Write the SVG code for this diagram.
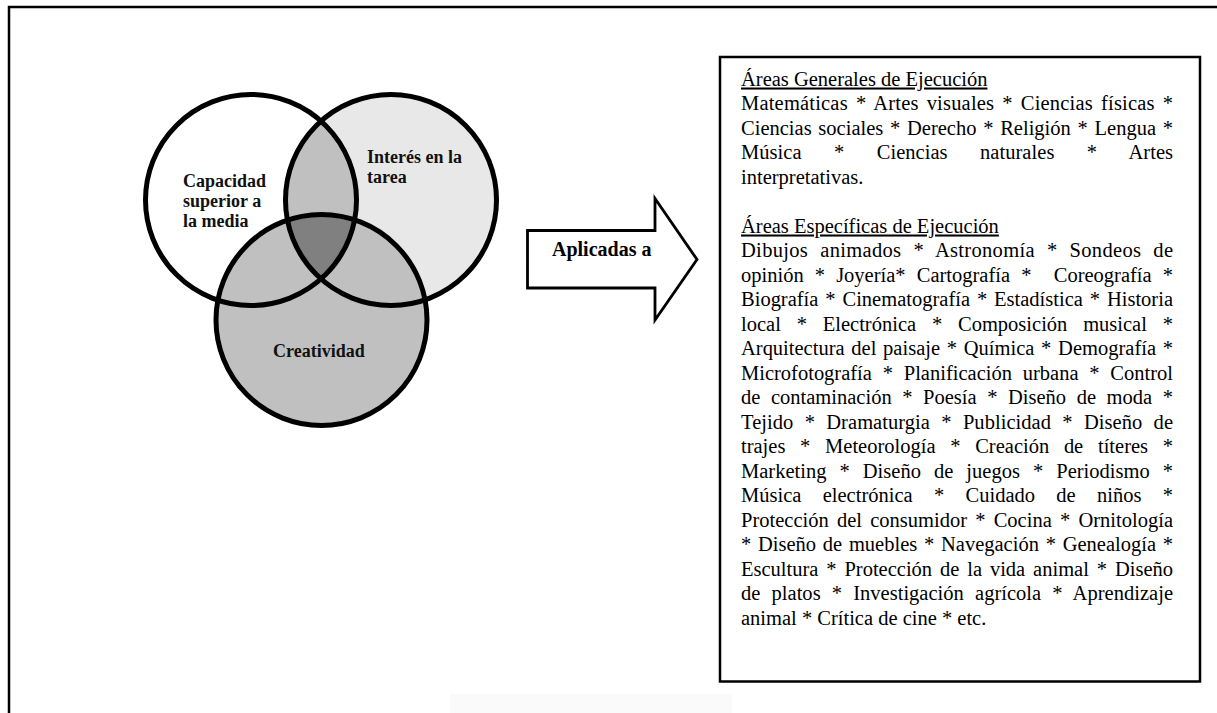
<svg xmlns="http://www.w3.org/2000/svg" width="1217" height="713" viewBox="0 0 1217 713">
  <style>
    .ring { fill: none; stroke: #000; stroke-width: 5; }
    .vlabel { font-family: "Liberation Serif", "Times New Roman", serif; font-weight: bold; font-size: 18px; fill: #111; }
    .alabel { font-family: "Liberation Serif", "Times New Roman", serif; font-weight: bold; font-size: 20px; fill: #000; }
    .body { font-family: "Liberation Serif", "Times New Roman", serif; font-size: 20.5px; fill: #000; }
    .head { text-decoration: underline; }
  </style>
  <defs>
    <clipPath id="clip-left"><circle cx="251" cy="200" r="105.5"/></clipPath>
    <clipPath id="clip-bottom"><circle cx="321.5" cy="320" r="105.5"/></clipPath>
  </defs>

  <rect width="1217" height="713" fill="#fff"/>

  <!-- page frame (top and left edges) -->
  <polyline points="9,713 9,7 1217,7" fill="none" stroke="#000" stroke-width="2.5"/>
  <rect x="450" y="694" width="282" height="19" fill="#fafafa"/>

  <!-- Venn region fills -->
  <g id="venn-fills">
    <circle cx="251" cy="200" r="105.5" fill="#fff"/>
    <circle cx="391" cy="200" r="105.5" fill="#e8e8e8"/>
    <circle cx="321.5" cy="320" r="105.5" fill="#c0c0c0"/>
    <circle cx="391" cy="200" r="105.5" fill="#c0c0c0" clip-path="url(#clip-left)"/>
    <g clip-path="url(#clip-bottom)">
      <circle cx="391" cy="200" r="105.5" fill="#808080" clip-path="url(#clip-left)"/>
    </g>
  </g>

  <g id="capacidad">
    <circle class="ring" cx="251" cy="200" r="105.5"/>
    <text class="vlabel" x="183" y="187">Capacidad</text>
    <text class="vlabel" x="183" y="207">superior a</text>
    <text class="vlabel" x="183" y="227">la media</text>
  </g>

  <g id="interes">
    <circle class="ring" cx="391" cy="200" r="105.5"/>
    <text class="vlabel" x="367" y="163">Interés en la</text>
    <text class="vlabel" x="367" y="183">tarea</text>
  </g>

  <g id="creatividad">
    <circle class="ring" cx="321.5" cy="320" r="105.5"/>
    <text class="vlabel" x="273" y="357">Creatividad</text>
  </g>

  <g id="connectors">
    <polygon points="527.5,230.5 655,230.5 655,198.5 697,259.5 655,320 655,288 527.5,288" fill="#fff" stroke="#000" stroke-width="2.8" stroke-linejoin="miter"/>
    <text class="alabel" x="552" y="256">Aplicadas a</text>
  </g>

  <!-- justified lines: word-spacing does the bulk, textLength trims the rest -->
  <g id="areas-ejecucion">
    <rect x="720" y="57" width="480" height="624.5" fill="#fff" stroke="#000" stroke-width="2.5"/>
    <text class="body head" x="741" y="85.5">Áreas Generales de Ejecución</text>
    <text class="body" x="741" y="110" word-spacing="2.76" textLength="432" lengthAdjust="spacing">Matemáticas * Artes visuales * Ciencias físicas *</text>
    <text class="body" x="741" y="134.5" word-spacing="1.62" textLength="432" lengthAdjust="spacing">Ciencias sociales * Derecho * Religión * Lengua *</text>
    <text class="body" x="741" y="159" word-spacing="27.3" textLength="432" lengthAdjust="spacing">Música * Ciencias naturales * Artes</text>
    <text class="body" x="741" y="183.5">interpretativas.</text>
    <text class="body head" x="741" y="232.5">Áreas Específicas de Ejecución</text>
    <text class="body" x="741" y="257" word-spacing="6.64" textLength="432" lengthAdjust="spacing">Dibujos animados * Astronomía * Sondeos de</text>
    <text class="body" x="741" y="281.5" word-spacing="6.0" textLength="432" lengthAdjust="spacing" xml:space="preserve">opinión * Joyería* Cartografía *  Coreografía *</text>
    <text class="body" x="741" y="306" word-spacing="1.78" textLength="432" lengthAdjust="spacing">Biografía * Cinematografía * Estadística * Historia</text>
    <text class="body" x="741" y="330.5" word-spacing="10.7" textLength="432" lengthAdjust="spacing">local * Electrónica * Composición musical *</text>
    <text class="body" x="741" y="355" word-spacing="1.61" textLength="432" lengthAdjust="spacing">Arquitectura del paisaje * Química * Demografía *</text>
    <text class="body" x="741" y="379.5" word-spacing="5.66" textLength="432" lengthAdjust="spacing">Microfotografía * Planificación urbana * Control</text>
    <text class="body" x="741" y="404" word-spacing="5.46" textLength="432" lengthAdjust="spacing">de contaminación * Poesía * Diseño de moda *</text>
    <text class="body" x="741" y="428.5" word-spacing="6.16" textLength="432" lengthAdjust="spacing">Tejido * Dramaturgia * Publicidad * Diseño de</text>
    <text class="body" x="741" y="453" word-spacing="9.59" textLength="432" lengthAdjust="spacing">trajes * Meteorología * Creación de títeres *</text>
    <text class="body" x="741" y="477.5" word-spacing="7.94" textLength="432" lengthAdjust="spacing">Marketing * Diseño de juegos * Periodismo *</text>
    <text class="body" x="741" y="502" word-spacing="16.2" textLength="432" lengthAdjust="spacing">Música electrónica * Cuidado de niños *</text>
    <text class="body" x="741" y="526.5" word-spacing="3.1" textLength="432" lengthAdjust="spacing">Protección del consumidor * Cocina * Ornitología</text>
    <text class="body" x="741" y="551" word-spacing="1.62" textLength="432" lengthAdjust="spacing">* Diseño de muebles * Navegación * Genealogía *</text>
    <text class="body" x="741" y="575.5" word-spacing="2.76" textLength="432" lengthAdjust="spacing">Escultura * Protección de la vida animal * Diseño</text>
    <text class="body" x="741" y="600" word-spacing="5.97" textLength="432" lengthAdjust="spacing">de platos * Investigación agrícola * Aprendizaje</text>
    <text class="body" x="741" y="624.5">animal * Crítica de cine * etc.</text>
  </g>
</svg>
